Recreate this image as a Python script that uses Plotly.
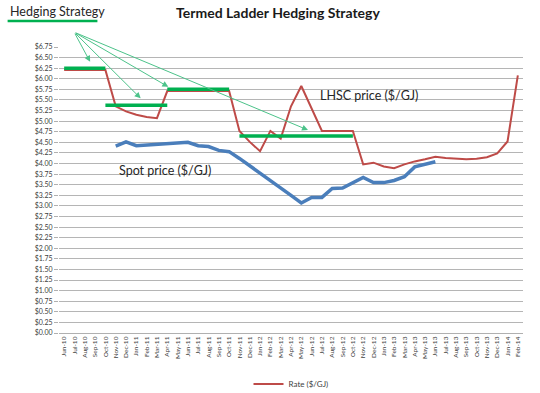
import plotly.graph_objects as go

months = ["Jun-10","Jul-10","Aug-10","Sep-10","Oct-10","Nov-10","Dec-10","Jan-11","Feb-11","Mar-11",
          "Apr-11","May-11","Jun-11","Jul-11","Aug-11","Sep-11","Oct-11","Nov-11","Dec-11","Jan-12",
          "Feb-12","Mar-12","Apr-12","May-12","Jun-12","Jul-12","Aug-12","Sep-12","Oct-12","Nov-12",
          "Dec-12","Jan-13","Feb-13","Mar-13","Apr-13","May-13","Jun-13","Jul-13","Aug-13","Sep-13",
          "Oct-13","Nov-13","Dec-13","Jan-14","Feb-14"]

rate = [6.21, 6.21, 6.21, 6.21, 6.21, 5.35, 5.23, 5.15, 5.10, 5.07,
        5.71, 5.71, 5.71, 5.71, 5.71, 5.71, 5.71, 4.77, 4.51, 4.29,
        4.77, 4.59, 5.35, 5.83, 5.32, 4.77, 4.77, 4.77, 4.77, 3.98,
        4.02, 3.93, 3.89, 3.98, 4.05, 4.10, 4.16, 4.13, 4.11, 4.10,
        4.11, 4.15, 4.24, 4.52, 6.08]

spot = [None, None, None, None, None, 4.41, 4.51, 4.42, 4.44, 4.46,
        4.48, 4.50, 4.50, 4.42, 4.40, 4.31, 4.28, 4.12, 3.95, 3.78,
        3.60, 3.42, 3.25, 3.07, 3.20, 3.20, 3.41, 3.42, 3.55, 3.67,
        3.55, 3.55, 3.60, 3.69, 3.92, 3.99, 4.04, None, None, None,
        None, None, None, None, None]

hedge_start = ["Jun-10", "Oct-10", "Apr-11", "Nov-11"]
hedge_end = ["Oct-10", "Apr-11", "Oct-11", "Oct-12"]
hedge_level = [6.25, 5.375, 5.75, 4.65]

# arrow heads (category index, value), all from a common tail
arrow_tail = (0.97, 7.10)
arrow_heads = [(2.52, 6.40), (7.42, 5.54), (10.1, 5.81), (23.65, 4.79)]

yticks = [i * 0.25 for i in range(28)]

FONT = "Lato, Open Sans, sans-serif"

fig = go.Figure()
fig.add_trace(go.Scatter(x=months, y=rate, mode="lines", name="Rate ($/GJ)",
                         line=dict(color="#be4b48", width=2), showlegend=True))
fig.add_trace(go.Scatter(x=months, y=spot, mode="lines", name="Spot",
                         line=dict(color="#4a7ebb", width=3.5), showlegend=False, connectgaps=False))
for s, e, lv in zip(hedge_start, hedge_end, hedge_level):
    i0, i1 = months.index(s), months.index(e)
    fig.add_trace(go.Scatter(x=months[i0:i1 + 1], y=[lv] * (i1 - i0 + 1), mode="lines",
                             line=dict(color="#00b050", width=3.5), showlegend=False))

annotations = []
for hx, hy in arrow_heads:
    annotations.append(dict(x=hx, y=hy, xref="x", yref="y", ax=arrow_tail[0], ay=arrow_tail[1],
                            axref="x", ayref="y", showarrow=True, arrowhead=2, arrowsize=1.2,
                            arrowwidth=1, arrowcolor="#4cc38a", text=""))
annotations.append(dict(x=318, y=95, xref="paper", yref="paper", text="LHSC price ($/GJ)",
                        showarrow=False))
annotations.append(dict(x=117, y=170, xref="paper", yref="paper", text="Spot price ($/GJ)",
                        showarrow=False))
annotations.append(dict(x=7, y=11, xref="paper", yref="paper", text="Hedging Strategy",
                        showarrow=False))

# convert pixel-positioned text annotations to paper coords
L, R, T, B = 58.5, 523.5, 47, 333
def px2paper(px, py):
    return (px - L) / (R - L), (B - py) / (B - T)
for a in annotations[-3:]:
    a["x"], a["y"] = px2paper(a["x"], a["y"])
    a["xanchor"] = "left"
    a["yanchor"] = "middle"
    a["font"] = dict(family=FONT, size=12.5, color="#262626")

ux0, uy = px2paper(7, 21)
ux1, _ = px2paper(97, 21)

fig.update_layout(
    width=540, height=393,
    margin=dict(l=L, r=540 - R, t=T, b=393 - B, autoexpand=False),
    paper_bgcolor="white", plot_bgcolor="white",
    font=dict(family=FONT, color="#404040"),
    title=dict(text="<b>Termed Ladder Hedging Strategy</b>", x=278 / 540, xanchor="center",
               y=1 - 13 / 393, yanchor="middle", font=dict(family=FONT, size=14, color="#1a1a1a")),
    showlegend=True,
    legend=dict(orientation="h", x=0.5, xanchor="center", y=(B - 384) / (B - T), yanchor="middle",
                font=dict(family=FONT, size=8, color="#404040"), bgcolor="rgba(0,0,0,0)"),
    annotations=annotations,
    shapes=[dict(type="line", xref="paper", yref="paper", x0=ux0, x1=ux1, y0=uy, y1=uy,
                 line=dict(color="#00b050", width=2.5))],
)
fig.update_xaxes(type="category", categoryorder="array", categoryarray=months, automargin=False,
                 range=[-0.5, len(months) - 0.5], tickangle=-90, tickfont=dict(size=6.5, color="#404040"),
                 showgrid=False, showline=True, linecolor="#b0b0b0", linewidth=1, ticks="", zeroline=False)
fig.update_yaxes(range=[0, 6.75], tickvals=yticks, ticktext=["$%.2f" % v for v in yticks], automargin=False,
                 tickfont=dict(size=7, color="#404040"), showgrid=True, gridcolor="#b5b5b5", gridwidth=1,
                 ticks="outside", ticklen=4, tickcolor="#b0b0b0", showline=False, zeroline=False)

fig.write_html("out.html", config={"displayModeBar": False},
               post_script="document.body.style.margin='0';document.body.style.overflow='hidden';")
